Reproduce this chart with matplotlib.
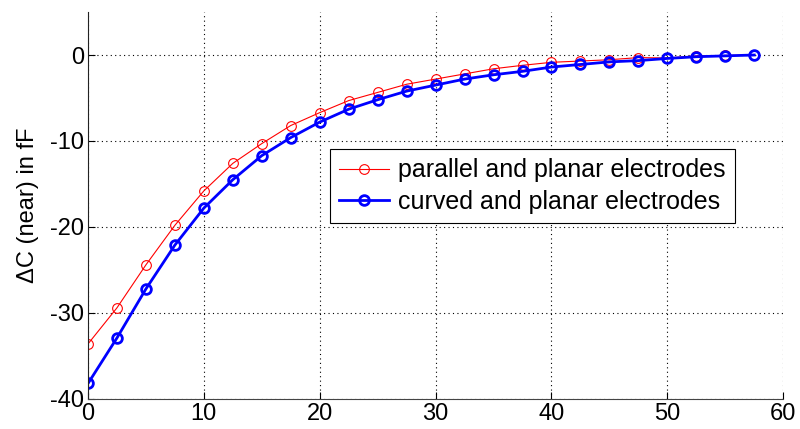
# Delta C (near) vs distance, two electrode configurations

import numpy as np
import matplotlib
matplotlib.use("Agg")
import matplotlib.pyplot as plt

plt.rcParams['font.family'] = ['Liberation Sans', 'DejaVu Sans']
plt.rcParams['axes.unicode_minus'] = False

# Data
x = [0, 2.5, 5, 7.5, 10, 12.5, 15, 17.5, 20, 22.5, 25, 27.5, 30,
     32.5, 35, 37.5, 40, 42.5, 45, 47.5, 50, 52.5, 55, 57.5]
parallel = [-33.6, -29.4, -24.4, -19.8, -15.8, -12.6, -10.3, -8.2, -6.7, -5.3,
            -4.35, -3.4, -2.8, -2.2, -1.6, -1.2, -0.85, -0.7, -0.55, -0.3,
            -0.35, -0.1, -0.05, 0.0]
curved = [-38.2, -32.9, -27.2, -22.1, -17.8, -14.5, -11.7, -9.6, -7.8, -6.3,
          -5.2, -4.2, -3.5, -2.8, -2.3, -1.9, -1.4, -1.1, -0.8, -0.65,
          -0.4, -0.2, -0.1, 0.0]
labels = ["parallel and planar electrodes", "curved and planar electrodes"]

fig = plt.figure(figsize=(8, 4.29), dpi=100)
ax = fig.add_axes([0.11, 0.07, 0.869, 0.902])

ax.plot(x, parallel, color="#ff0000", linewidth=0.8, marker="o",
        markersize=7, markerfacecolor="none", markeredgewidth=0.8,
        label=labels[0])
ax.plot(x, curved, color="#0000ff", linewidth=2, marker="o",
        markersize=7, markerfacecolor="none", markeredgewidth=2,
        label=labels[1])

ax.set_xlim(0, 60)
ax.set_ylim(-40, 5)
ax.set_xticks(np.arange(0, 61, 10))
ax.set_yticks(np.arange(-40, 1, 10))
ax.grid(True, color="black", linestyle=(0, (1, 3)), linewidth=0.8)
ax.tick_params(direction="in", labelsize=17, length=5, width=0.8, pad=3)
ax.spines["top"].set_visible(False)
ax.spines["right"].set_visible(False)
ax.spines["left"].set_color("#222222")
ax.spines["bottom"].set_color("#444444")
ax.set_ylabel("ΔC (near) in fF", fontsize=17, labelpad=8)

leg = ax.legend(loc="upper left", bbox_to_anchor=(0.348, 0.646), fontsize=18,
                frameon=True, fancybox=False, framealpha=1, edgecolor="black",
                borderpad=0.38, labelspacing=0.3, handlelength=2.0,
                handletextpad=0.35, borderaxespad=0)
leg.get_frame().set_linewidth(0.8)

plt.savefig("out.png", dpi=100)
